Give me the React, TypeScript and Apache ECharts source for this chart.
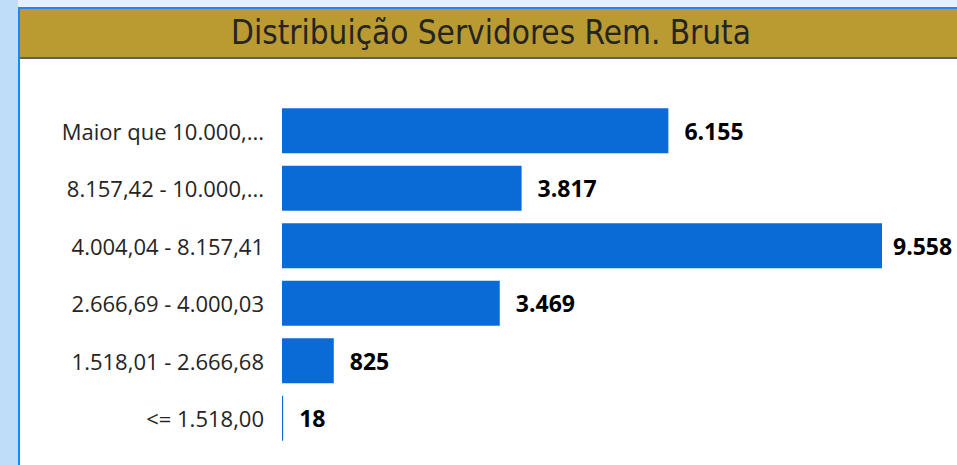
import React, { useEffect, useRef } from "react";
import * as echarts from "echarts";

const titleText = "Distribuição Servidores Rem. Bruta";
const categories = [
  "Maior que 10.000,...",
  "8.157,42 - 10.000,...",
  "4.004,04 - 8.157,41",
  "2.666,69 - 4.000,03",
  "1.518,01 - 2.666,68",
  "<= 1.518,00",
];
const values = [6155, 3817, 9558, 3469, 825, 18];

const fmt = (v: number) => v.toLocaleString("de-DE");

export default function App() {
  const ref = useRef<HTMLDivElement>(null);
  useEffect(() => {
    document.body.style.margin = "0";
    const chart = echarts.init(ref.current!, null, { renderer: "svg" });
    const maxV = Math.max(...values);
    chart.setOption({
      animation: false,
      backgroundColor: "#ffffff",
      graphic: [
        { type: "rect", shape: { x: 0, y: 0, width: 957, height: 8 }, style: { fill: "#E6F0FC" }, z: -10 },
        { type: "rect", shape: { x: 0, y: 0, width: 18, height: 465 }, style: { fill: "#BFDDF9" }, z: -10 },
        { type: "rect", shape: { x: 18, y: 7, width: 2, height: 458 }, style: { fill: "#1E88F0" }, z: -9 },
        { type: "rect", shape: { x: 18, y: 7, width: 939, height: 2 }, style: { fill: "#1E88F0" }, z: -9 },
        { type: "rect", shape: { x: 20, y: 9, width: 937, height: 48 }, style: { fill: "#B99B32" }, z: -9 },
        { type: "rect", shape: { x: 20, y: 57, width: 937, height: 2 }, style: { fill: "#5F5F5F" }, z: -9 },
        {
          type: "text",
          x: 491,
          y: 32,
          style: {
            text: titleText,
            fill: "#252423",
            font: "33px 'DejaVu Sans Condensed', Roboto, sans-serif",
            align: "center",
            verticalAlign: "middle",
          },
        },
      ],
      grid: { left: 282, top: 102, width: 600, height: 345 },
      xAxis: {
        type: "value",
        min: 0,
        max: maxV,
        show: false,
      },
      yAxis: {
        type: "category",
        data: categories,
        inverse: true,
        axisLine: { show: false },
        axisTick: { show: false },
        axisLabel: {
          margin: 18,
          color: "#252423",
          fontSize: 22,
          fontFamily: "'Segoe UI', 'Open Sans', sans-serif",
        },
      },
      series: [
        {
          type: "bar",
          data: values.map((v) =>
            v === maxV ? { value: v, label: { distance: 11 } } : v
          ),
          barCategoryGap: "22%",
          itemStyle: { color: "#0B6BD6" },
          label: {
            show: true,
            position: "right",
            distance: 16,
            formatter: (p: any) => fmt(p.value),
            color: "#000000",
            fontSize: 23,
            fontWeight: "bold",
            fontFamily: "'Segoe UI', 'Open Sans', sans-serif",
          },
        },
      ],
    });
    return () => chart.dispose();
  }, []);
  return <div ref={ref} style={{ width: 957, height: 465 }} />;
}
